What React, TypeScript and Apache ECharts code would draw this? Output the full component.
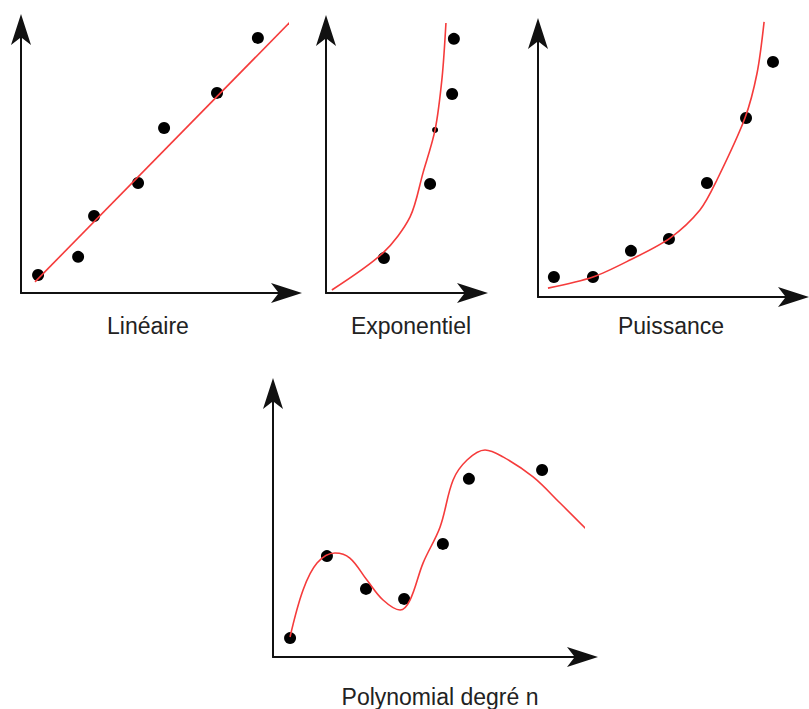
import React, { useEffect, useRef } from "react";
import * as echarts from "echarts";

// Panel titles
const titles = ["Linéaire", "Exponentiel", "Puissance", "Polynomial degré n"];

// Linéaire
const linPointsX = [0.61, 2.04, 2.61, 4.18, 5.11, 7.0, 8.46];
const linPointsY = [0.65, 1.3, 2.77, 3.96, 5.94, 7.2, 9.18];
const linFitX = [0.5, 9.96];
const linFitY = [0.4, 10.11];

// Exponentiel
const expPointsX = [1.97, 3.54, 4.29, 4.35];
const expPointsY = [1.26, 3.94, 7.19, 9.18];
const expHiddenX = [3.71];
const expHiddenY = [5.89];
const expFitX = [0.2, 1.94, 2.86, 3.3, 3.71, 3.95, 4.08];
const expFitY = [0.11, 1.45, 2.75, 4.34, 5.89, 7.8, 9.75];

// Puissance
const powPointsX = [0.59, 2.04, 3.45, 4.86, 6.27, 7.72, 8.72];
const powPointsY = [0.72, 0.72, 1.66, 2.09, 4.1, 6.44, 8.46];
const powFitX = [0.37, 2.04, 3.41, 4.9, 6.01, 6.64, 7.68, 8.13, 8.39];
const powFitY = [0.32, 0.72, 1.33, 2.12, 3.13, 4.21, 6.44, 8.06, 9.9];

// Polynomial degré n
const polyPointsX = [0.55, 1.74, 3.0, 4.23, 5.48, 6.32, 8.68];
const polyPointsY = [0.68, 3.63, 2.45, 2.09, 4.07, 6.41, 6.73];
const polyFitX = [0.55, 0.97, 1.42, 2.0, 2.48, 3.03, 3.55, 4.1, 4.42, 4.84, 5.39, 5.81, 6.26, 6.84, 7.42, 8.39, 9.26, 10.13];
const polyFitY = [0.72, 2.41, 3.38, 3.74, 3.56, 2.77, 2.05, 1.69, 2.05, 3.38, 4.68, 6.37, 7.09, 7.45, 7.2, 6.48, 5.54, 4.57];

const axisMaxX = [9.5, 5, 9.5, 10];
const axisMaxY = [9.5, 9.5, 9.5, 9.5];

const zip = (xs: number[], ys: number[]) => xs.map((x, i) => [x, ys[i]]);

export default function App() {
  const ref = useRef<HTMLDivElement>(null);
  useEffect(() => {
    document.body.style.margin = "0";
    if (!ref.current) return;
    const chart = echarts.init(ref.current, null, { renderer: "svg" });

    const grids = [
      { left: 21, top: 29, width: 266, height: 264 },
      { left: 326, top: 30, width: 147, height: 263 },
      { left: 538, top: 33, width: 256, height: 264 },
      { left: 273, top: 393, width: 310, height: 264 },
    ];
    const titlePos = [
      [148, 326],
      [411, 326],
      [671, 326],
      [440, 697],
    ];

    const axisLine = {
      show: true,
      symbol: ["none", "arrow"],
      symbolSize: [15, 31],
      symbolOffset: [0, 15],
      lineStyle: { color: "#111", width: 2 },
    };
    const baseAxis = {
      type: "value",
      min: 0,
      axisLine,
      axisTick: { show: false },
      axisLabel: { show: false },
      splitLine: { show: false },
    };

    const pointSets = [
      zip(linPointsX, linPointsY),
      zip(expPointsX, expPointsY),
      zip(powPointsX, powPointsY),
      zip(polyPointsX, polyPointsY),
    ];
    const fitSets = [
      zip(linFitX, linFitY),
      zip(expFitX, expFitY),
      zip(powFitX, powFitY),
      zip(polyFitX, polyFitY),
    ];
    const smooths = [false, 0.3, 0.3, 0.35];

    const series: any[] = [];
    pointSets.forEach((d, i) => {
      series.push({
        type: "scatter",
        xAxisIndex: i,
        yAxisIndex: i,
        data: d,
        symbolSize: 12,
        itemStyle: { color: "#000", opacity: 1 },
        z: 2,
      });
    });
    series.push({
      type: "scatter",
      xAxisIndex: 1,
      yAxisIndex: 1,
      data: zip(expHiddenX, expHiddenY),
      symbolSize: 6,
      itemStyle: { color: "#000", opacity: 1 },
      z: 2,
    });
    fitSets.forEach((d, i) => {
      series.push({
        type: "line",
        xAxisIndex: i,
        yAxisIndex: i,
        data: d,
        smooth: smooths[i],
        showSymbol: false,
        clip: false,
        lineStyle: { color: "#f53b3b", width: 1.6 },
        z: 3,
      });
    });

    chart.setOption({
      animation: false,
      backgroundColor: "#fff",
      grid: grids.map((g) => ({ ...g, containLabel: false })),
      xAxis: grids.map((_, i) => ({ ...baseAxis, gridIndex: i, max: axisMaxX[i] })),
      yAxis: grids.map((_, i) => ({ ...baseAxis, gridIndex: i, max: axisMaxY[i] })),
      series,
      graphic: titles.map((t, i) => ({
        type: "text",
        x: titlePos[i][0],
        y: titlePos[i][1],
        style: {
          text: t,
          fontSize: 23,
          fontFamily: "Liberation Sans, Arial, sans-serif",
          fill: "#222",
          textAlign: "center",
          textVerticalAlign: "middle",
        },
      })),
    });
    return () => chart.dispose();
  }, []);
  return <div ref={ref} style={{ width: 809, height: 709 }} />;
}
